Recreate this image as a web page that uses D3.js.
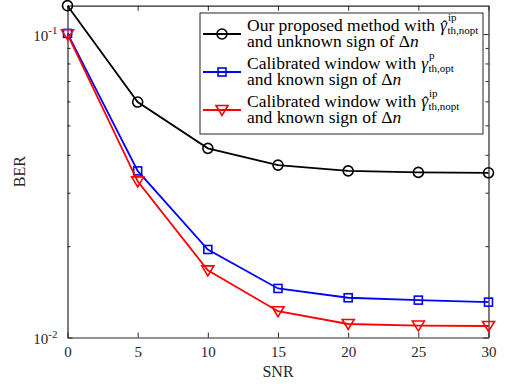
<!DOCTYPE html>
<html>
<head>
<meta charset="utf-8">
<script src="https://cdn.jsdelivr.net/npm/d3@7"></script>
<style>
  body { margin: 0; background: #fff; }
  text { font-family: "Liberation Serif", "Times New Roman", serif; fill: #262626; }
</style>
</head>
<body>
<svg id="chart" width="505" height="386"></svg>
<script>
// BER vs SNR for three detection schemes
const snr = [0, 5, 10, 15, 20, 25, 30];
const berProposed   = [0.124, 0.0597, 0.0420, 0.0370, 0.0354, 0.0350, 0.0349];
const berCalibP     = [0.1005, 0.0354, 0.0195, 0.01451, 0.01352, 0.01328, 0.01308];
const berCalibIp    = [0.0998, 0.0327, 0.01664, 0.01221, 0.01108, 0.01095, 0.01091];

const xTickValues = [0, 5, 10, 15, 20, 25, 30];
const yMajorTicks = [0.01, 0.1];
const yMajorExp   = ["-2", "-1"];
const yMinorTicks = [0.02, 0.03, 0.04, 0.05, 0.06, 0.07, 0.08, 0.09];

const xLabel = "SNR";
const yLabel = "BER";

// legend text pieces: first line prefix, gamma decorations, second line
const legendPrefix = ["Our proposed method with", "Calibrated window with", "Calibrated window with"];
const legendHat    = [true, false, true];
const legendSup    = ["ip", "p", "ip"];
const legendSub    = ["th,nopt", "th,opt", "th,nopt"];
const legendLine2  = ["and unknown sign of ", "and known sign of ", "and known sign of "];

const seriesColors  = ["#000000", "#0000ff", "#ff0000"];
const seriesMarkers = ["circle", "square", "triangle"];
const seriesData    = [berProposed, berCalibP, berCalibIp];

const plot = { left: 67.5, right: 488.5, top: 5.7, bottom: 337.5 };

const svg = d3.select("#chart");

const x = d3.scaleLinear().domain([0, 30]).range([plot.left, plot.right]);
const y = d3.scaleLog().domain([0.01, 0.124]).range([plot.bottom, plot.top]);

const axisColor = "#262626";

function styleAxis(g) {
  g.selectAll("path.domain").attr("stroke", axisColor).attr("stroke-width", 1.2);
  g.selectAll(".tick line").attr("stroke", axisColor).attr("stroke-width", 1);
}

// bottom axis with labels
const gx = svg.append("g")
  .attr("transform", `translate(0,${plot.bottom})`)
  .call(d3.axisBottom(x).tickValues(xTickValues).tickSize(-5).tickSizeOuter(0).tickPadding(9).tickFormat(d3.format("d")));
styleAxis(gx);
gx.selectAll(".tick text").attr("font-size", 15).attr("font-family", "Liberation Serif").attr("fill", axisColor);

// top axis (ticks only)
const gxt = svg.append("g")
  .attr("transform", `translate(0,${plot.top})`)
  .call(d3.axisTop(x).tickValues(xTickValues).tickSize(-5).tickSizeOuter(0).tickFormat(""));
styleAxis(gxt);

// left axis, major ticks with power-of-ten labels
const gy = svg.append("g")
  .attr("transform", `translate(${plot.left},0)`)
  .call(d3.axisLeft(y).tickValues(yMajorTicks).tickSize(-5).tickSizeOuter(0).tickPadding(10).tickFormat(""));
styleAxis(gy);
gy.selectAll(".tick text").each(function(d, i) {
  const t = d3.select(this).attr("font-size", 15).attr("font-family", "Liberation Serif")
    .attr("fill", axisColor).attr("dy", "0.42em");
  t.append("tspan").text("10");
  t.append("tspan").attr("font-size", 11).attr("dy", "-0.6em").text(yMajorExp[i]);
});

// left minor ticks
const gym = svg.append("g")
  .attr("transform", `translate(${plot.left},0)`)
  .call(d3.axisLeft(y).tickValues(yMinorTicks).tickSize(-3).tickSizeOuter(0).tickFormat(""));
styleAxis(gym);
gym.select("path.domain").remove();

// right axis (ticks only)
const gyr = svg.append("g")
  .attr("transform", `translate(${plot.right},0)`)
  .call(d3.axisRight(y).tickValues(yMajorTicks).tickSize(-5).tickSizeOuter(0).tickFormat(""));
styleAxis(gyr);
const gyrm = svg.append("g")
  .attr("transform", `translate(${plot.right},0)`)
  .call(d3.axisRight(y).tickValues(yMinorTicks).tickSize(-3).tickSizeOuter(0).tickFormat(""));
styleAxis(gyrm);
gyrm.select("path.domain").remove();

// axis titles
svg.append("text")
  .attr("x", (plot.left + plot.right) / 2).attr("y", 377)
  .attr("text-anchor", "middle").attr("font-size", 16).text(xLabel);
svg.append("text")
  .attr("transform", `translate(25,${(plot.top + plot.bottom) / 2}) rotate(-90)`)
  .attr("text-anchor", "middle").attr("font-size", 16).text(yLabel);

// marker drawing
function drawMarker(g, type, color) {
  if (type === "circle") {
    g.append("circle").attr("r", 5).attr("fill", "none").attr("stroke", color).attr("stroke-width", 1.6);
  } else if (type === "square") {
    g.append("rect").attr("x", -4).attr("y", -4).attr("width", 8).attr("height", 8)
      .attr("fill", "none").attr("stroke", color).attr("stroke-width", 1.6);
  } else {
    g.append("path").attr("d", "M-6,-4.5L6,-4.5L0,5.5Z")
      .attr("fill", "none").attr("stroke", color).attr("stroke-width", 1.6);
  }
}

const line = d3.line().x((d, i) => x(snr[i])).y(d => y(d));

seriesData.forEach((vals, s) => {
  svg.append("path").datum(vals)
    .attr("d", line).attr("fill", "none")
    .attr("stroke", seriesColors[s]).attr("stroke-width", 1.8);
  vals.forEach((v, i) => {
    const g = svg.append("g").attr("transform", `translate(${x(snr[i])},${y(v)})`);
    drawMarker(g, seriesMarkers[s], seriesColors[s]);
  });
});

// legend
const legend = { x: 200, y: 13, w: 283, h: 121, rowGap: 38 };
svg.append("rect")
  .attr("x", legend.x).attr("y", legend.y).attr("width", legend.w).attr("height", legend.h)
  .attr("fill", "#fff").attr("stroke", axisColor).attr("stroke-width", 1);

const fs = 17.5, fsSmall = 11;
legendPrefix.forEach((pre, s) => {
  const baseY = 31 + s * legend.rowGap;
  const sampleY = 34 + s * legend.rowGap;
  const g = svg.append("g");
  g.append("line").attr("x1", legend.x + 3).attr("x2", legend.x + 41)
    .attr("y1", sampleY).attr("y2", sampleY)
    .attr("stroke", seriesColors[s]).attr("stroke-width", 1.8);
  drawMarker(g.append("g").attr("transform", `translate(${legend.x + 22},${sampleY})`), seriesMarkers[s], seriesColors[s]);

  // one text element per entry; pieces placed with absolute tspan positions
  const tx = legend.x + 47;
  const t = g.append("text").attr("font-size", fs).style("fill", "#000");
  const p1 = t.append("tspan").attr("x", tx).attr("y", baseY).text(pre);
  const gx0 = tx + p1.node().getComputedTextLength() + 5;
  const gam = t.append("tspan").attr("x", gx0).attr("y", baseY).attr("font-style", "italic").text("γ");
  const gw = gam.node().getComputedTextLength();
  if (legendHat[s]) {
    const hat = t.append("tspan").attr("y", baseY + 1).text("ˆ");
    const hw = hat.node().getComputedTextLength();
    hat.attr("x", gx0 + gw / 2 + 1 - hw / 2);
  }
  t.append("tspan").attr("x", gx0 + gw + 1).attr("y", baseY - 10).attr("font-size", fsSmall).text(legendSup[s]);
  t.append("tspan").attr("x", gx0 + gw + 0.5).attr("y", baseY + 2.5).attr("font-size", fsSmall).text(legendSub[s]);
  t.append("tspan").attr("x", tx).attr("y", baseY + 16.3).text(legendLine2[s] + "Δ");
  t.append("tspan").attr("font-style", "italic").text("n");
});
</script>
</body>
</html>
